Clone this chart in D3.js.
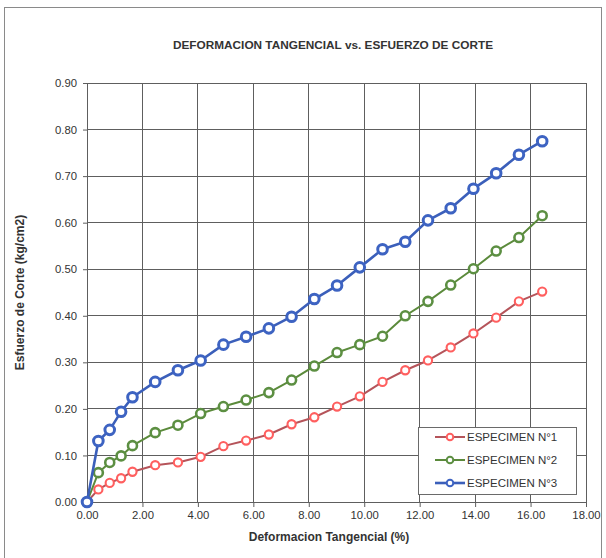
<!DOCTYPE html>
<html>
<head>
<meta charset="utf-8">
<script src="https://cdn.jsdelivr.net/npm/d3@7"></script>
<style>
  html, body { margin: 0; padding: 0; background: #fff; }
  svg { display: block; font-family: "Liberation Sans", Arial, sans-serif; }
</style>
</head>
<body>
<svg id="chart" width="606" height="558"></svg>
<script>
// Deformación tangencial (%) shared by the three specimens
const deformacion = [0, 0.41, 0.82, 1.23, 1.64, 2.46, 3.28, 4.10, 4.92, 5.74, 6.56, 7.38,
  8.20, 9.02, 9.84, 10.66, 11.48, 12.30, 13.12, 13.94, 14.76, 15.58, 16.42];

// Esfuerzo de corte (kg/cm2) per specimen
const especimen1 = [0, 0.027, 0.041, 0.051, 0.065, 0.079, 0.085, 0.097, 0.120, 0.132, 0.145, 0.167,
  0.182, 0.205, 0.227, 0.258, 0.283, 0.304, 0.332, 0.362, 0.396, 0.431, 0.452];
const especimen2 = [0, 0.063, 0.085, 0.099, 0.121, 0.149, 0.165, 0.190, 0.205, 0.219, 0.235, 0.262,
  0.292, 0.321, 0.338, 0.356, 0.400, 0.431, 0.466, 0.501, 0.539, 0.568, 0.615];
const especimen3 = [0, 0.131, 0.155, 0.194, 0.225, 0.258, 0.283, 0.304, 0.338, 0.355, 0.373, 0.398,
  0.436, 0.465, 0.504, 0.543, 0.559, 0.605, 0.631, 0.673, 0.706, 0.746, 0.775];

const seriesNames = ["ESPECIMEN N°1", "ESPECIMEN N°2", "ESPECIMEN N°3"];
const xTicks = [0, 2, 4, 6, 8, 10, 12, 14, 16, 18];
const yTicks = [0, 0.1, 0.2, 0.3, 0.4, 0.5, 0.6, 0.7, 0.8, 0.9];

const styles = [
  { line: "#b5545a", marker: "#ff5f5f", lw: 2,   r: 4.1, mw: 2.1 },
  { line: "#5b8a3b", marker: "#5c8f42", lw: 2,   r: 4.5, mw: 2.6 },
  { line: "#3b5fba", marker: "#3d63c2", lw: 2.6, r: 4.8, mw: 3 }
];

const svg = d3.select("#chart");
const x = d3.scaleLinear().domain([0, 18]).range([87, 586]);
const y = d3.scaleLinear().domain([0, 0.9]).range([502, 83]);

// outer frame
svg.append("rect")
  .attr("x", 4.5).attr("y", 7.5).attr("width", 597).attr("height", 560)
  .attr("fill", "none").attr("stroke", "#8a8a8a").attr("stroke-width", 1);

// title
svg.append("text")
  .attr("x", 333).attr("y", 49)
  .attr("text-anchor", "middle")
  .attr("font-size", 11.8).attr("font-weight", "bold").attr("fill", "#333")
  .text("DEFORMACION TANGENCIAL vs. ESFUERZO DE CORTE");

// grid
const grid = svg.append("g").attr("stroke", "#5e5e5e").attr("stroke-width", 1).attr("shape-rendering", "crispEdges");
grid.selectAll("line.v").data(xTicks).join("line")
  .attr("class", "v")
  .attr("x1", d => x(d)).attr("x2", d => x(d))
  .attr("y1", y(0)).attr("y2", y(0.9));
grid.selectAll("line.h").data(yTicks).join("line")
  .attr("class", "h")
  .attr("x1", x(0)).attr("x2", x(18))
  .attr("y1", d => y(d)).attr("y2", d => y(d));

// axes
const xAxis = d3.axisBottom(x).tickValues(xTicks).tickFormat(d3.format(".2f")).tickSize(5).tickSizeOuter(0);
const yAxis = d3.axisLeft(y).tickValues(yTicks).tickFormat(d3.format(".2f")).tickSize(4).tickSizeOuter(0);

const gx = svg.append("g").attr("transform", `translate(0,${y(0)})`).call(xAxis);
const gy = svg.append("g").attr("transform", `translate(${x(0)},0)`).call(yAxis);
[gx, gy].forEach(g => {
  g.select(".domain").attr("stroke", "#5e5e5e");
  g.selectAll(".tick line").attr("stroke", "#5e5e5e");
  g.selectAll(".tick text").attr("fill", "#333").attr("font-size", 11.3)
    .attr("font-family", "'Liberation Sans', Arial, sans-serif");
});
gx.selectAll(".tick text").attr("dy", "0.71em").attr("y", 9);
gy.selectAll(".tick text").attr("x", -10);

// axis titles
svg.append("text")
  .attr("x", 329).attr("y", 541)
  .attr("text-anchor", "middle")
  .attr("font-size", 12).attr("font-weight", "bold").attr("fill", "#333")
  .text("Deformacion Tangencial (%)");
svg.append("text")
  .attr("transform", `translate(24,${(y(0) + y(0.9)) / 2}) rotate(-90)`)
  .attr("text-anchor", "middle")
  .attr("font-size", 12).attr("font-weight", "bold").attr("fill", "#333")
  .text("Esfuerzo de Corte (kg/cm2)");

// series
const allSeries = [especimen1, especimen2, especimen3];
const line = d3.line().x(d => x(d[0])).y(d => y(d[1]));

allSeries.forEach((vals, i) => {
  const pts = deformacion.map((d, j) => [d, vals[j]]);
  const st = styles[i];
  const g = svg.append("g");
  g.append("path").datum(pts)
    .attr("d", line).attr("fill", "none")
    .attr("stroke", st.line).attr("stroke-width", st.lw).attr("stroke-linejoin", "round");
  g.selectAll("circle").data(pts).join("circle")
    .attr("cx", d => x(d[0])).attr("cy", d => y(d[1]))
    .attr("r", st.r).attr("fill", "#fff")
    .attr("stroke", st.marker).attr("stroke-width", st.mw);
});

// legend
const lg = svg.append("g");
lg.append("rect")
  .attr("x", 418.5).attr("y", 427.5).attr("width", 158).attr("height", 67)
  .attr("fill", "#fff").attr("stroke", "#6a6a6a").attr("stroke-width", 1);
const rowsY = [437, 460, 483];
seriesNames.forEach((name, i) => {
  const st = styles[i];
  lg.append("line")
    .attr("x1", 435).attr("x2", 465).attr("y1", rowsY[i]).attr("y2", rowsY[i])
    .attr("stroke", st.line).attr("stroke-width", st.lw);
  lg.append("circle")
    .attr("cx", 450).attr("cy", rowsY[i]).attr("r", 3.3)
    .attr("fill", "#fff").attr("stroke", st.marker).attr("stroke-width", 2);
  lg.append("text")
    .attr("x", 467).attr("y", rowsY[i]).attr("dy", "0.35em")
    .attr("font-size", 11.5).attr("fill", "#333")
    .text(name);
});
</script>
</body>
</html>
